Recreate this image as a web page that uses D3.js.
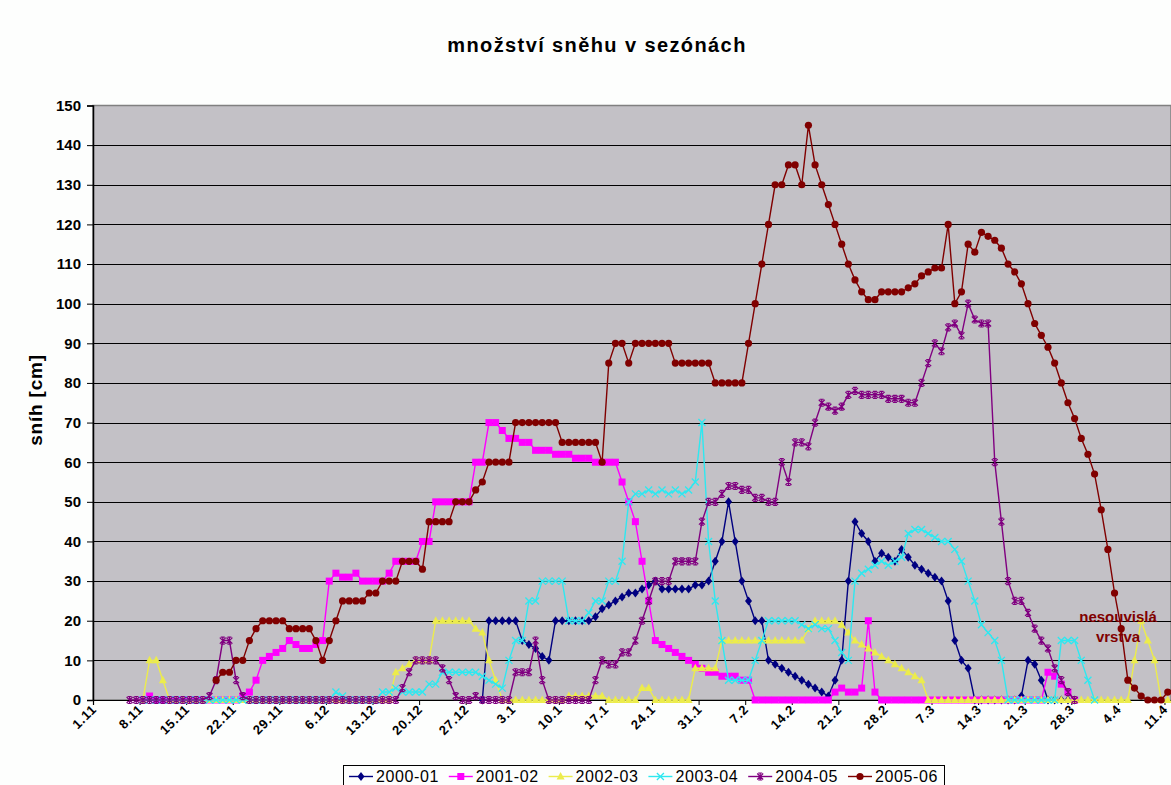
<!DOCTYPE html>
<html>
<head>
<meta charset="utf-8">
<script src="https://cdn.jsdelivr.net/npm/d3@7"></script>
<style>
  body { margin: 0; background: #fff; }
  svg { display: block; }
  text { font-family: Arial, "Liberation Sans", sans-serif; }
</style>
</head>
<body>
<svg width="1171" height="785"></svg>
<script>
// days from 1.11 to 11.4 (162 categories), one value per day
const nDays = 162;
const tickLabels = ["1.11","8.11","15.11","22.11","29.11","6.12","13.12","20.12","27.12","3.1","10.1","17.1",
                    "24.1","31.1","7.2","14.2","21.2","28.2","7.3","14.3","21.3","28.3","4.4","11.4"];

const seriesNames = ["2000-01","2001-02","2002-03","2003-04","2004-05","2005-06"];
// index of first day of each season's record
const seriesStart = [58, 7, 7, 7, 5, 18];

const s2000_01 = [0, 20,20,20,20,20, 15,14,13,11,10, 20,20,20,20,20,20,
  21,23,24,25,26,27,27,28,29,30, 28,28,28,28,28, 29,29,30,
  35,40,50,40,30,25,20,20, 10,9,8,7,6,5,4,3,2,1,
  5,10,30,45,42,40,35,37,36,35,38,36,34,33,32,31,30,
  25,15,10,8, 0,0,0,0,0,0,0, 1,10,9,5, 0,0,0,0,0];

const s2001_02 = [0,1, 0,0,0,0,0,0,0,0,0,0,0,0,0,
  1,2,5,10,11,12,13,15,14,13,13,14,15,
  30,32,31,31,32,30,30,30,30,32,
  35,35,35,35,40,40, 50,50,50,50,50,50,
  60,60,70,70,68,66,66,65,65,63,63,63,62,62,62,61,61,61,60,60,60,60,
  55,50,45,35,25,15,14,13,12,11,10,9,8,7,7,6,6,6,5,5,
  0,0,0,0,0,0,0,0,0,0,0,0, 2,3,2,2,3,20,2,
  0,0,0,0,0,0,0,0,0,0,0,0,0,0,0,0,0,0,0,0,0,0,0,0,0, 7,6,4,2,0];

const s2002_03 = [0,10,10,5,
  0,0,0,0,0,0,0,0,0,0,0,0,0,0,0,0,0,0,0,0,0,0,0,0,0,0,0,0,0,0,0,0,0,0,
  7,8,9,10,10,10, 20,20,20,20,20,20, 18,17,10,5,
  0,0,0,0,0,0,0,0,0,0, 1,1,1,1,1,1, 0,0,0,0,0, 3,3, 0,0,0,0,0,0,
  8,8,8,8, 15,15,15,15,15,15,15,15,15,15,15,15,15, 18, 20,20,20,20,
  19,17,15,14,13,12,11,10,9,8,7,6,5,
  0,0,0,0,0,0,0,0,0,0,0,0,0,0,0,0,0,0,0,0,0,0,0,0,0,0,0,0,0,0,0,
  10,20,15,10,0,0];

const s2003_04 = [0,0,0,0,0,0,0,0,0,0,0,0,0,0,0,0,0,0,0,0,0,0,0,0,0,0,0,0,0,
  2,1, 0,0,0,0,0, 2,2,3,2,2,2,2, 4,4, 7,7,7,7,7,7,
  6,5,4,3,10,15,15,25,25,30,30,30,30,
  20,20,20,22,25,25,30,30,35,50,52,52,53,52,53,52,53,52,53,55,70,40,25,15,5,5,5,5,
  10,15,20,20,20,20,20,19,18,19,18,18,15,12,10,30,32,33,34,35,34,35,36,
  42,43,43,42,41,40,40,38,35,30,25,19,17,15,10,
  0,0,0,0,0,0,0,0, 15,15,15,10,5,0];

const s2004_05 = [0,0, 0,0,0,0,0,0,0,0,0,0, 1,5,15,15,5,1,
  0,0,0,0,0,0,0,0,0,0,0,0,0,0,0,0,0,0,0,0,0,0,0,
  3,7,10,10,10,10,8,5,1,0,0,1, 0,0,0,0,0, 7,7,7,15,5, 0,0,0,0,0,0,0,
  5,10,9,9,12,12,15,20,25,30,30,30,35,35,35,35,45,50,50,52,54,54,53,53,51,51,50,50,
  60,55,65,65,64,70,75,74,73,74,77,78,77,77,77,77,76,76,76,75,75,
  80,85,90,88,94,95,92,100,96,95,95,60,45,30,25,25,22,18,15,13,8,5,2,0];

const s2005_06 = [5,7,7,10,10,15,18, 20,20,20,20, 18,18,18,18, 15,10,15,20, 25,25,25,25, 27,27,
  30,30,30, 35,35,35, 33, 45,45,45,45, 50,50,50, 53,55, 60,60,60,60,
  70,70,70,70,70,70,70, 65,65,65,65,65,65, 60, 85,90,90,85, 90,90,90,90,90,90,
  85,85,85,85,85,85, 80,80,80,80,80,
  90,100,110,120,130,130,135,135,130,145, 135,130,125,120,115,110,106,103,101,101,
  103,103,103,103, 104,105,107,108,109,109, 120,100,103,115,113,118,
  117,116,114,110,108,105,100,95,
  92,89,85,80,75,71,66,62,57,48,38,27,18,5,3,1,0,0,0,2];

const annotation = ["nesouvislá", "vrstva"];

const seriesValues = [s2000_01, s2001_02, s2002_03, s2003_04, s2004_05, s2005_06];
const colors = ["#000080", "#ff00ff", "#ecec4c", "#2ee8f0", "#800080", "#800000"];
const markers = ["diamond", "square", "triangle", "cross", "star", "circle"];

const svg = d3.select("svg");
const margin = {top: 105.5, left: 93, bottom: 700};
const dayW = 6.655;

const x = d3.scaleBand().domain(d3.range(nDays)).range([margin.left, margin.left + nDays * dayW]);
const xb = d3.scaleLinear().domain([0, nDays]).range([margin.left, margin.left + nDays * dayW]);
const y = d3.scaleLinear().domain([0, 150]).range([margin.bottom, margin.top]);
const cx = i => x(i) + x.bandwidth() / 2;

svg.append("rect").attr("width", 1171).attr("height", 785).attr("fill", "#fdfefd");

// plot area
svg.append("rect")
  .attr("x", margin.left).attr("y", margin.top)
  .attr("width", 1171 - margin.left).attr("height", margin.bottom - margin.top)
  .attr("fill", "#c3c1c6").attr("stroke", "#808080").attr("stroke-width", 1.5);

svg.append("g").selectAll("line")
  .data(d3.range(10, 150, 10))
  .join("line")
  .attr("x1", margin.left).attr("x2", 1171)
  .attr("y1", d => Math.round(y(d)) + 0.5).attr("y2", d => Math.round(y(d)) + 0.5)
  .attr("stroke", "#000").attr("stroke-width", 1);

// y axis
const gy = svg.append("g")
  .attr("transform", `translate(${margin.left},0)`)
  .call(d3.axisLeft(y).tickValues(d3.range(0, 151, 10)).tickSize(6).tickPadding(6));
gy.select(".domain").attr("stroke", "#000").attr("stroke-width", 1.5);
gy.selectAll(".tick line").attr("stroke", "#000");
gy.selectAll(".tick text").attr("font-size", 15).attr("font-weight", "bold")
  .attr("font-family", "Arial, 'Liberation Sans', sans-serif").attr("fill", "#000");

// x axis
const gx = svg.append("g")
  .attr("transform", `translate(0,${margin.bottom})`)
  .call(d3.axisBottom(xb).tickValues(d3.range(0, nDays, 7)).tickSize(5).tickFormat(""));
gx.select(".domain").attr("stroke", "#000").attr("stroke-width", 1.2);
gx.selectAll(".tick line").attr("stroke", "#000");

svg.append("g").selectAll("text")
  .data(tickLabels)
  .join("text")
  .attr("transform", (d, i) => `translate(${cx(i * 7) + 1},${margin.bottom + 10}) rotate(-45)`)
  .attr("text-anchor", "end")
  .attr("font-size", 13).attr("font-weight", "bold").attr("letter-spacing", 0.8)
  .text(d => d);

// marker shapes
function marker(g, type, color) {
  if (type === "diamond") {
    g.append("path").attr("d", "M0,-4.5L3.5,0L0,4.5L-3.5,0Z").attr("fill", color);
  } else if (type === "square") {
    g.append("rect").attr("x", -3.5).attr("y", -3.5).attr("width", 7).attr("height", 7).attr("fill", color);
  } else if (type === "triangle") {
    g.append("path").attr("d", "M0,-4.5L4,3L-4,3Z").attr("fill", color);
  } else if (type === "cross") {
    g.append("path").attr("d", "M-3.5,-3.5L3.5,3.5M-3.5,3.5L3.5,-3.5")
      .attr("stroke", color).attr("stroke-width", 1.3).attr("fill", "none");
  } else if (type === "star") {
    g.append("path").attr("d", "M-3,-3L3,3M-3,3L3,-3M0,-3.5L0,3.5M-2,-3.5L2,-3.5M-2,3.5L2,3.5")
      .attr("stroke", color).attr("stroke-width", 1.2).attr("fill", "none");
  } else {
    g.append("circle").attr("r", 3.6).attr("fill", color);
  }
}

const line = d3.line().x(d => cx(d.i)).y(d => y(d.v));

seriesValues.forEach((vals, s) => {
  const pts = vals.map((v, k) => ({i: seriesStart[s] + k, v: v}));
  const g = svg.append("g");
  g.append("path").datum(pts)
    .attr("d", line).attr("fill", "none")
    .attr("stroke", colors[s]).attr("stroke-width", 1.4);
  g.selectAll("g.m").data(pts).join("g")
    .attr("class", "m")
    .attr("transform", d => `translate(${cx(d.i)},${y(d.v)})`)
    .each(function() { marker(d3.select(this), markers[s], colors[s]); });
});

// annotation
svg.append("text")
  .attr("x", 1118).attr("y", 622)
  .attr("text-anchor", "middle").attr("font-size", 15).attr("font-weight", "bold")
  .attr("fill", "#800000")
  .selectAll("tspan").data(annotation).join("tspan")
  .attr("x", 1118).attr("dy", (d, i) => i ? 20 : 0)
  .text(d => d);

// title
svg.append("text")
  .attr("x", 597).attr("y", 52)
  .attr("text-anchor", "middle").attr("font-size", 20).attr("font-weight", "bold")
  .attr("letter-spacing", 1.4)
  .text("množství sněhu v sezónách");

svg.append("text")
  .attr("transform", "translate(42,400) rotate(-90)")
  .attr("text-anchor", "middle").attr("font-size", 19).attr("font-weight", "bold")
  .attr("letter-spacing", 0.8)
  .text("sníh [cm]");

// legend
const leg = svg.append("g");
leg.append("rect")
  .attr("x", 343.5).attr("y", 765.5).attr("width", 601).attr("height", 40)
  .attr("fill", "#fdfefd").attr("stroke", "#000").attr("stroke-width", 1);
seriesNames.forEach((name, s) => {
  const lx = 349 + s * 99.8;
  const it = leg.append("g").attr("transform", `translate(${lx},0)`);
  it.append("line").attr("x1", 0).attr("x2", 24).attr("y1", 776.5).attr("y2", 776.5)
    .attr("stroke", colors[s]).attr("stroke-width", 1.4);
  marker(it.append("g").attr("transform", "translate(12,776.5)"), markers[s], colors[s]);
  it.append("text").attr("x", 27).attr("y", 782).attr("font-size", 16)
    .attr("letter-spacing", 0.6).text(name);
});
</script>
</body>
</html>
